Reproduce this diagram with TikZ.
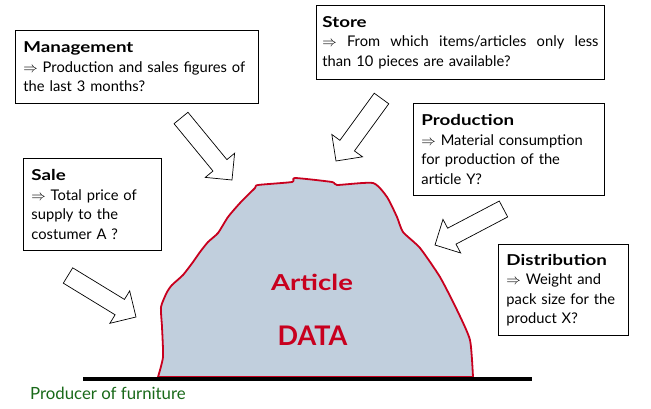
\documentclass[tikz,border=0pt]{standalone}
\usepackage{fontspec}
\setmainfont{Lato}
\newfontfamily\titlefont{Lato}[FakeStretch=1.25]
\usetikzlibrary{calc}
\definecolor{blobred}{RGB}{200,0,30}
\definecolor{blobfill}{RGB}{193,207,221}
\definecolor{darkgreen}{RGB}{25,105,25}
\newcommand{\blkarrow}[2]{%
  \draw[blk] ($(#1)!9pt!90:(#2)$)
    -- ($($(#2)!19pt!(#1)$)!9pt!90:(#2)$)
    -- ($($(#2)!19pt!(#1)$)!19pt!90:(#2)$)
    -- (#2)
    -- ($($(#2)!19pt!(#1)$)!19pt!-90:(#2)$)
    -- ($($(#2)!19pt!(#1)$)!9pt!-90:(#2)$)
    -- ($(#1)!9pt!-90:(#2)$) -- cycle;}
\newcommand{\btitle}[1]{{\titlefont\bfseries\fontsize{15}{19.5}\selectfont #1}}
\begin{document}
\begin{tikzpicture}[x=1pt,y=-1pt,
  box/.style={draw=black, line width=0.9pt, anchor=north west, inner xsep=8pt, inner ysep=0pt,
    align=left, font=\fontsize{14.7}{19.5}\selectfont},
  blk/.style={draw=black, line width=0.7pt, fill=white, line join=miter},
  bigred/.style={text=blobred}]
\useasboundingbox (0,0) rectangle (651,409);

% blob
\path[fill=blobfill, draw=blobred, line width=1.8pt, line join=round]
  plot[smooth, tension=0.35] coordinates {
   (158,377) (163,357) (162,327) (161,307) (167,292) (172,285) (183,275) (193,262)
   (200,252) (208,242) (218,233) (228,217) (240,203) (255,188) (258,185) (292,182)
   (295,178) (332,182) (337,185) (373,183) (387,197) (397,217) (403,232) (420,248)
   (440,277) (457,310) (470,340) (473,377)} -- cycle;
\draw[line width=4pt] (83,378.5) coordinate (g1) -- (532,378.5) coordinate (g2);

\node[bigred, font=\titlefont\bfseries\fontsize{22}{22}\selectfont] (art) at (312,282) {Article};
\node[bigred, font=\bfseries\fontsize{27}{27}\selectfont] (data) at (312.5,336) {DATA};

\node[anchor=base west, text=darkgreen, font=\fontsize{16.8}{18}\selectfont, inner sep=0pt]
  (prod) at (30,399) {Producer of furniture};

% boxes
\node[box, text width=227pt, minimum height=73pt] (mgmt) at (15,30)
  {\btitle{Management}\\ $\Rightarrow$ Production and sales figures of\\ the last 3 months?};
\node[box, text width=276pt, inner xsep=6pt, minimum height=74pt] (store) at (316,5)
  {\btitle{Store}\\ \leavevmode\hbox to 276pt{$\Rightarrow$\hfill From\hfill which\hfill items/articles\hfill only\hfill less}\\ than 10 pieces are available?};
\node[box, text width=175pt, minimum height=92pt] (production) at (413,103)
  {\btitle{Production}\\ $\Rightarrow$ Material consumption\\ for production of the\\ article Y?};
\node[box, text width=122pt, minimum height=92pt] (sale) at (23,158)
  {\btitle{Sale}\\ $\Rightarrow$ Total price of\\ supply to the\\ costumer A ?};
\node[box, text width=114pt, minimum height=91pt] (dist) at (498,244)
  {\btitle{Distribution}\\ $\Rightarrow$ Weight and\\ pack size for the\\ product X?};

% block arrows
\coordinate (a1t) at (181,118);   \coordinate (a1h) at (232,180);
\coordinate (a2t) at (381.5,98.5); \coordinate (a2h) at (336,161);
\coordinate (a3t) at (503.5,209); \coordinate (a3h) at (435,245);
\coordinate (a4t) at (68,275.5);  \coordinate (a4h) at (136,317);
\blkarrow{a1t}{a1h}
\blkarrow{a2t}{a2h}
\blkarrow{a3t}{a3h}
\blkarrow{a4t}{a4h}
\end{tikzpicture}
\end{document}
